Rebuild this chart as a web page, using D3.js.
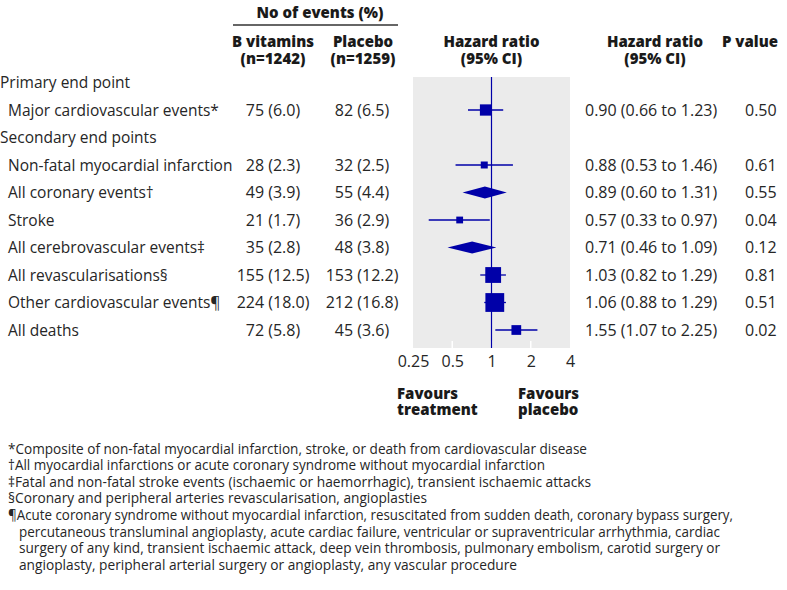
<!DOCTYPE html>
<html>
<head>
<meta charset="utf-8">
<script src="https://cdn.jsdelivr.net/npm/d3@7"></script>
<style>
  html, body { margin: 0; padding: 0; background: #fff; }
  svg { display: block; }
  text { font-family: "Open Sans", "Noto Sans", sans-serif; fill: #262626; }
  .bold { font-weight: 800; fill: #1a1a1a; }
</style>
</head>
<body>
<svg id="chart" width="787" height="590"></svg>
<script>
// ---------------- DATA ----------------
const sections = ["Primary end point", "Secondary end points"];
const outcomes = [
  "Major cardiovascular events*",
  "Non-fatal myocardial infarction",
  "All coronary events\u2020",
  "Stroke",
  "All cerebrovascular events\u2021",
  "All revascularisations\u00a7",
  "Other cardiovascular events\u00b6",
  "All deaths"
];
const outcomeSection = [0, 1, 1, 1, 1, 1, 1, 1];
const bVitEvents = [75, 28, 49, 21, 35, 155, 224, 72];
const bVitPct = [6.0, 2.3, 3.9, 1.7, 2.8, 12.5, 18.0, 5.8];
const placeboEvents = [82, 32, 55, 36, 48, 153, 212, 45];
const placeboPct = [6.5, 2.5, 4.4, 2.9, 3.8, 12.2, 16.8, 3.6];
const hazardRatio = [0.90, 0.88, 0.89, 0.57, 0.71, 1.03, 1.06, 1.55];
const ciLow = [0.66, 0.53, 0.60, 0.33, 0.46, 0.82, 0.88, 1.07];
const ciHigh = [1.23, 1.46, 1.31, 0.97, 1.09, 1.29, 1.29, 2.25];
const pValues = ["0.50", "0.61", "0.55", "0.04", "0.12", "0.81", "0.51", "0.02"];
const markerShape = ["square", "square", "diamond", "square", "diamond", "square", "square", "square"];
const xTicks = [0.25, 0.5, 1, 2, 4];
const xTickLabels = ["0.25", "0.5", "1", "2", "4"];
const groupHeader = "No of events (%)";
const colHeaders = [["B vitamins", "(n=1242)"], ["Placebo", "(n=1259)"]];
const hrHeader = ["Hazard ratio", "(95% CI)"];
const pHeader = "P value";
const favours = [["Favours", "treatment"], ["Favours", "placebo"]];
const footnotes = [
  "*Composite of non-fatal myocardial infarction, stroke, or death from cardiovascular disease",
  "\u2020All myocardial infarctions or acute coronary syndrome without myocardial infarction",
  "\u2021Fatal and non-fatal stroke events (ischaemic or haemorrhagic), transient ischaemic attacks",
  "\u00a7Coronary and peripheral arteries revascularisation, angioplasties",
  "\u00b6Acute coronary syndrome without myocardial infarction, resuscitated from sudden death, coronary bypass surgery,",
  "percutaneous transluminal angioplasty, acute cardiac failure, ventricular or supraventricular arrhythmia, cardiac",
  "surgery of any kind, transient ischaemic attack, deep vein thrombosis, pulmonary embolism, carotid surgery or",
  "angioplasty, peripheral arterial surgery or angioplasty, any vascular procedure"
];

// ---------------- BUILD ROWS ----------------
const rows = [];
let lastSection = -1;
outcomes.forEach((o, i) => {
  if (outcomeSection[i] !== lastSection) {
    rows.push({ type: "section", label: sections[outcomeSection[i]] });
    lastSection = outcomeSection[i];
  }
  rows.push({
    type: "outcome", label: o,
    b: bVitEvents[i], bp: bVitPct[i], p: placeboEvents[i], pp: placeboPct[i],
    hr: hazardRatio[i], lo: ciLow[i], hi: ciHigh[i], pv: pValues[i],
    shape: markerShape[i], total: bVitEvents[i] + placeboEvents[i]
  });
});
rows.forEach((r, i) => r.idx = i);

// ---------------- LAYOUT ----------------
const BLUE = "#0000a8";
const svg = d3.select("#chart");
const FS = 15;     // header font size
const RFS = 16;    // numbers font size
const LFS = 15.5;  // row label font size

const y = d3.scalePoint().domain(d3.range(rows.length)).range([82.5, 330]);
const x = d3.scaleLog().base(2).domain([0.25, 4]).range([413, 570]);
const size = d3.scaleSqrt().domain([0, 436]).range([0, 18.8]);
const panelTop = 77, panelBottom = 348;
const colB = 273, colP = 362, colHR = 585, colPV = 745;

function multiline(cx, cy, lines, anchor, lh) {
  const t = svg.append("text").attr("class", "bold").attr("x", cx).attr("y", cy)
    .attr("text-anchor", anchor).style("font-size", FS + "px");
  t.selectAll("tspan").data(lines).join("tspan")
    .attr("x", cx).attr("dy", (d, k) => k === 0 ? 0 : lh).text(d => d);
}

// headers
svg.append("text").attr("class", "bold").attr("x", 320).attr("y", 18)
  .attr("text-anchor", "middle").style("font-size", FS + "px").text(groupHeader);
svg.append("line").attr("x1", 233).attr("x2", 398).attr("y1", 25).attr("y2", 25)
  .attr("stroke", "#333").attr("stroke-width", 1.5);
multiline(colB, 46.5, colHeaders[0], "middle", 17.5);
multiline(colP + 1, 46.5, colHeaders[1], "middle", 17.5);
multiline(x(1), 46.5, hrHeader, "middle", 17.5);
multiline(655, 46.5, hrHeader, "middle", 17.5);
svg.append("text").attr("class", "bold").attr("x", 750).attr("y", 46.5)
  .attr("text-anchor", "middle").style("font-size", FS + "px").text(pHeader);

// panel
svg.append("rect").attr("x", x(0.25)).attr("y", panelTop)
  .attr("width", x(4) - x(0.25)).attr("height", panelBottom - panelTop).attr("fill", "#ebebeb");
svg.selectAll(".wtick").data(xTicks.slice(1, -1)).join("line")
  .attr("x1", d => x(d)).attr("x2", d => x(d))
  .attr("y1", panelBottom - 7).attr("y2", panelBottom)
  .attr("stroke", "#fff").attr("stroke-width", 1.5);
svg.append("line").attr("x1", x(1)).attr("x2", x(1)).attr("y1", panelTop).attr("y2", panelBottom)
  .attr("stroke", BLUE).attr("stroke-width", 1.2);

// axis
const axis = d3.axisBottom(x).tickValues(xTicks).tickSize(0)
  .tickFormat((d, i) => xTickLabels[i]);
const gAxis = svg.append("g").attr("transform", `translate(0,${panelBottom})`).call(axis);
gAxis.select(".domain").remove();
gAxis.selectAll("text").attr("y", 19).attr("dy", null)
  .style("font-size", RFS + "px").style("font-family", '"Open Sans", sans-serif').attr("fill", "#262626");

// favours
multiline(397, 398.5, favours[0], "start", 16.5);
multiline(518, 398.5, favours[1], "start", 16.5);

// rows
const fmt1 = d3.format(".1f"), fmt2 = d3.format(".2f");
const g = svg.selectAll(".row").data(rows).join("g").attr("class", "row");
g.append("text")
  .attr("x", d => d.type === "section" ? 0 : 8)
  .attr("y", d => y(d.idx) + 5.6)
  .style("font-size", LFS + "px")
  .text(d => d.label);

const og = g.filter(d => d.type === "outcome");
og.append("text").attr("x", colB).attr("y", d => y(d.idx) + 5.8)
  .attr("text-anchor", "middle").style("font-size", RFS + "px")
  .text(d => `${d.b} (${fmt1(d.bp)})`);
og.append("text").attr("x", colP).attr("y", d => y(d.idx) + 5.8)
  .attr("text-anchor", "middle").style("font-size", RFS + "px")
  .text(d => `${d.p} (${fmt1(d.pp)})`);
og.append("text").attr("x", colHR).attr("y", d => y(d.idx) + 5.8)
  .style("font-size", RFS + "px")
  .text(d => `${fmt2(d.hr)} (${fmt2(d.lo)} to ${fmt2(d.hi)})`);
og.append("text").attr("x", colPV).attr("y", d => y(d.idx) + 5.8)
  .style("font-size", RFS + "px")
  .text(d => d.pv);

// CI lines and markers
og.filter(d => d.shape === "square").append("line")
  .attr("x1", d => x(d.lo)).attr("x2", d => x(d.hi))
  .attr("y1", d => y(d.idx)).attr("y2", d => y(d.idx))
  .attr("stroke", BLUE).attr("stroke-width", 1.3);
og.filter(d => d.shape === "square").append("rect")
  .attr("x", d => x(d.hr) - size(d.total) / 2)
  .attr("y", d => y(d.idx) - size(d.total) / 2)
  .attr("width", d => size(d.total)).attr("height", d => size(d.total))
  .attr("fill", BLUE);
og.filter(d => d.shape === "diamond").append("path")
  .attr("d", d => {
    const cy = y(d.idx), h = 6;
    return `M${x(d.lo)},${cy}L${x(d.hr)},${cy - h}L${x(d.hi)},${cy}L${x(d.hr)},${cy + h}Z`;
  })
  .attr("fill", BLUE);

// footnotes
const fnLen = [579, 537, 583, 419, 725, 701, 701, 498];
svg.selectAll(".fn").data(footnotes).join("text")
  .attr("class", "fn")
  .attr("x", (d, i) => i >= 5 ? 19 : 8)
  .attr("y", (d, i) => 453.5 + i * 16.65)
  .attr("textLength", (d, i) => fnLen[i])
  .attr("lengthAdjust", "spacingAndGlyphs")
  .style("font-size", "14px")
  .attr("fill", "#333")
  .text(d => d);
</script>
</body>
</html>
